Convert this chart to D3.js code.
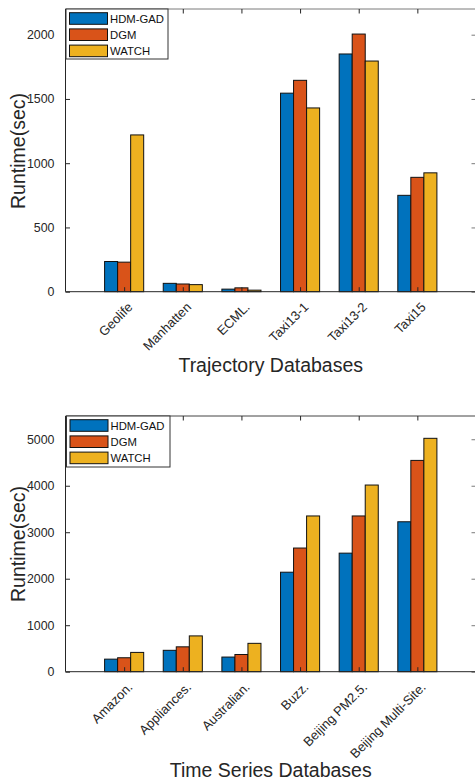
<!DOCTYPE html>
<html>
<head>
<meta charset="utf-8">
<script src="https://cdn.jsdelivr.net/npm/d3@7"></script>
<style>
  html, body { margin: 0; padding: 0; background: #fff; }
  svg { display: block; font-family: "Liberation Sans", Arial, Helvetica, sans-serif; }
</style>
</head>
<body>
<svg id="chart" width="475" height="781"></svg>
<script>
// Series shared by both panels
const seriesNames = ["HDM-GAD", "DGM", "WATCH"];
const seriesColors = ["#0072BD", "#D95319", "#EDB120"];

// Panel 1: trajectory databases
const trajCategories = ["Geolife", "Manhatten", "ECML.", "Taxi13-1", "Taxi13-2", "Taxi15"];
const trajHDM = [235, 65, 20, 1545, 1850, 750];
const trajDGM = [230, 60, 30, 1645, 2005, 890];
const trajWATCH = [1220, 55, 12, 1430, 1795, 925];
const trajTicks = [0, 500, 1000, 1500, 2000];

// Panel 2: time series databases
const tsCategories = ["Amazon.", "Appliances.", "Australian.", "Buzz.", "Beijing PM2.5.", "Beijing Multi-Site."];
const tsHDM = [270, 460, 315, 2140, 2550, 3225];
const tsDGM = [300, 535, 370, 2660, 3350, 4545];
const tsWATCH = [415, 770, 610, 3350, 4015, 5020];
const tsTicks = [0, 1000, 2000, 3000, 4000, 5000];

const svg = d3.select("#chart");
const textColor = "#262626";

function panel(opts) {
  const { categories, series, ticks, yMax, top, bottom, xTitle, xTitleY, yTitleY, legendBox, frameColor } = opts;
  const g = svg.append("g");

  // categorical positions 1..n on a [0, n+1] axis
  const x = d3.scaleLinear().domain([0, categories.length + 1]).range([65.5, 476]);
  const y = d3.scaleLinear().domain([0, yMax]).range([bottom, top]);

  const slot = 0.2222; // bar width in category units
  const tickLen = 4.5;

  // bars
  series.forEach((vals, j) => {
    g.append("g").selectAll("rect").data(vals).join("rect")
      .attr("x", (d, i) => x(i + 1 + (j - 1) * slot - slot / 2))
      .attr("width", x(slot) - x(0))
      .attr("y", d => y(d))
      .attr("height", d => y(0) - y(d))
      .attr("fill", seriesColors[j])
      .attr("stroke", "#111")
      .attr("stroke-width", 1);
  });

  // box: top edge
  g.append("line").attr("x1", x(0)).attr("x2", x(categories.length + 1))
    .attr("y1", top).attr("y2", top).attr("stroke", frameColor).attr("stroke-width", 1);

  // left axis with inward ticks
  const yAxis = d3.axisLeft(y).tickValues(ticks).tickSize(-tickLen).tickPadding(tickLen + 6.5)
    .tickFormat(d3.format("d"));
  const ya = g.append("g").attr("transform", `translate(${x(0)},0)`).call(yAxis);
  ya.select(".domain").remove();
  ya.selectAll(".tick line").attr("stroke", textColor);
  ya.selectAll(".tick text").attr("fill", textColor).style("font-size", "12.4px")
    .style("font-family", "'Liberation Sans', Arial, sans-serif");
  g.append("line").attr("x1", x(0)).attr("x2", x(0)).attr("y1", top).attr("y2", bottom)
    .attr("stroke", textColor).attr("stroke-width", 1);

  // right edge ticks
  const yr = d3.axisRight(y).tickValues(ticks).tickSize(-tickLen).tickFormat("");
  const yra = g.append("g").attr("transform", `translate(${x(categories.length + 1)},0)`).call(yr);
  yra.select(".domain").remove();
  yra.selectAll(".tick line").attr("stroke", "#7a7a7a");

  // top edge ticks
  const xt = d3.axisTop(x).tickValues(d3.range(1, categories.length + 1)).tickSize(-tickLen).tickFormat("");
  const xta = g.append("g").attr("transform", `translate(0,${top})`).call(xt);
  xta.select(".domain").remove();
  xta.selectAll(".tick line").attr("stroke", textColor);

  // bottom axis with rotated category labels
  const xb = d3.axisBottom(x).tickValues(d3.range(1, categories.length + 1)).tickSize(-tickLen)
    .tickFormat(i => categories[i - 1]);
  const xba = g.append("g").attr("transform", `translate(0,${bottom})`).call(xb);
  xba.select(".domain").remove();
  xba.selectAll(".tick line").attr("stroke", textColor);
  xba.selectAll(".tick text")
    .attr("fill", textColor).style("font-size", "13px")
    .style("font-family", "'Liberation Sans', Arial, sans-serif")
    .attr("text-anchor", "end")
    .attr("y", 0).attr("dy", "0.35em")
    .attr("transform", "translate(5.5,13) rotate(-45)");
  g.append("line").attr("x1", x(0)).attr("x2", x(categories.length + 1))
    .attr("y1", bottom).attr("y2", bottom).attr("stroke", textColor).attr("stroke-width", 1);

  // axis titles
  g.append("text").attr("x", (x(0) + x(categories.length + 1)) / 2).attr("y", xTitleY)
    .attr("text-anchor", "middle").attr("fill", textColor).style("font-size", "19.5px").text(xTitle);
  g.append("text").attr("transform", `translate(25,${yTitleY}) rotate(-90)`)
    .attr("text-anchor", "middle").attr("fill", textColor).style("font-size", "19.5px").text("Runtime(sec)");

  // legend
  const lg = g.append("g");
  lg.append("rect").attr("x", legendBox.x).attr("y", legendBox.y)
    .attr("width", legendBox.w).attr("height", legendBox.h)
    .attr("fill", "#fff").attr("stroke", "#333").attr("stroke-width", 1);
  seriesNames.forEach((name, j) => {
    const cy = legendBox.y + 9.5 + j * 16.2;
    lg.append("rect").attr("x", legendBox.x + 3.5).attr("y", cy - 5.8)
      .attr("width", 38).attr("height", 11.6)
      .attr("fill", seriesColors[j]).attr("stroke", "#111").attr("stroke-width", 1);
    lg.append("text").attr("x", legendBox.x + 44).attr("y", cy).attr("dy", "0.36em")
      .attr("fill", "#111").style("font-size", "11.3px").text(name);
  });
}

panel({
  categories: trajCategories,
  series: [trajHDM, trajDGM, trajWATCH],
  ticks: trajTicks, yMax: 2200, top: 9, bottom: 291.7,
  xTitle: "Trajectory Databases", xTitleY: 371.7, yTitleY: 151,
  legendBox: { x: 66, y: 9, w: 102, h: 50 }, frameColor: "#7a7a7a"
});

panel({
  categories: tsCategories,
  series: [tsHDM, tsDGM, tsWATCH],
  ticks: tsTicks, yMax: 5500, top: 416, bottom: 671.7,
  xTitle: "Time Series Databases", xTitleY: 776.7, yTitleY: 544,
  legendBox: { x: 66.5, y: 416, w: 103.5, h: 51 }, frameColor: "#444"
});
</script>
</body>
</html>
